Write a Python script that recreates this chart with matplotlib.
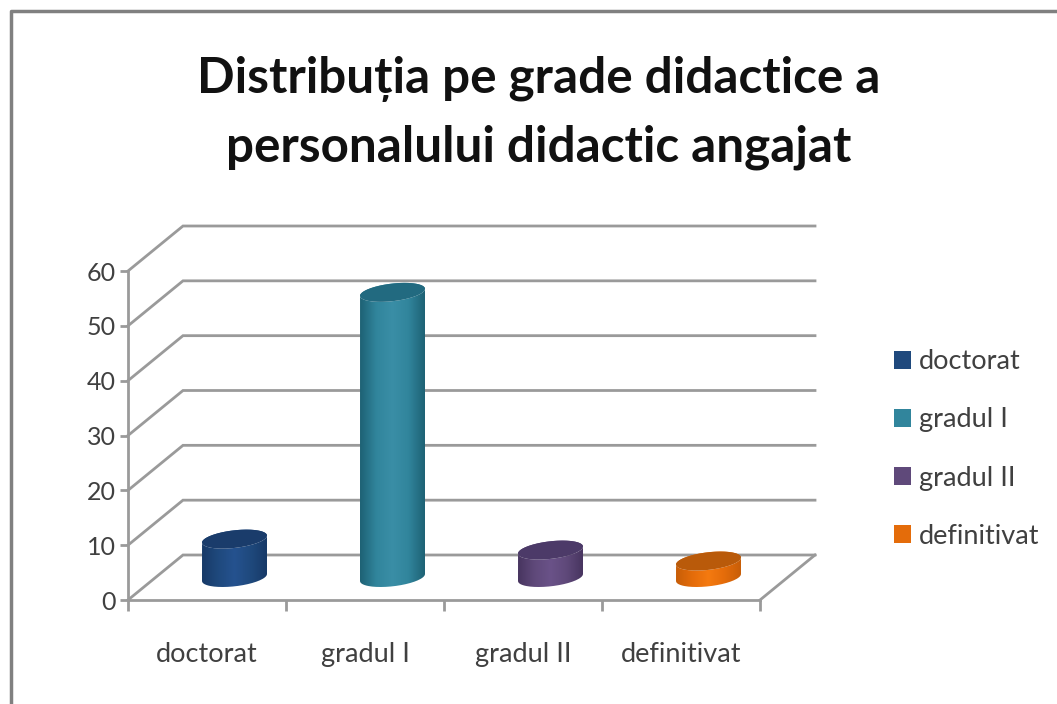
import numpy as np
from matplotlib import pyplot as plt
from matplotlib.colors import LinearSegmentedColormap
from matplotlib.lines import Line2D
from matplotlib.patches import Patch, PathPatch
from matplotlib.path import Path

categories = ["doctorat", "gradul I", "gradul II", "definitivat"]
values = [7, 52, 5, 3]
y_ticks = [0, 10, 20, 30, 40, 50, 60]

colors = ["#1f497d", "#31859c", "#5f497a", "#e46c0a"]
bright = ["#25528f", "#3a8ea6", "#6a5288", "#f57a10"]
dark = ["#173a68", "#1e6275", "#483560", "#c85e08"]
tops = ["#1a3c6b", "#226a80", "#4c3a68", "#b95a0a"]

grid_col = "#9a9a9a"
text_col = "#404040"
W, H = 1057, 704

plt.rcParams["font.family"] = ["Lato", "DejaVu Sans"]

fig = plt.figure(figsize=(W / 100, H / 100), dpi=100, facecolor="white")
# axes box = front plane of the 3d chart
ax = fig.add_axes([128 / W, 1 - 600 / H, 632 / W, 329 / H])
ax.set_xlim(0, 4)
ax.set_ylim(0, 60)
ax.patch.set_visible(False)

# depth of the fake 3d box, in data units
dep_x = 55 / 158
dep_y = 45 / (329 / 60)

for s in ["top", "right"]:
    ax.spines[s].set_visible(False)
for s in ["left", "bottom"]:
    ax.spines[s].set_color(grid_col)
    ax.spines[s].set_linewidth(2)

ax.set_yticks(y_ticks)
ax.set_xticks(range(5))
ax.set_xticklabels([])
ax.set_xticks(np.arange(4) + 0.5, categories, minor=True)
ax.tick_params(axis="y", which="major", length=6, width=2, color=grid_col,
               labelsize=18, labelcolor=text_col, pad=3)
ax.tick_params(axis="x", which="major", length=8, width=2, color=grid_col)
ax.tick_params(axis="x", which="minor", length=0, labelsize=19.5,
               labelcolor=text_col, pad=30)

# walls and floor
for v in y_ticks:
    ax.plot([0, dep_x, 4 + dep_x], [v, v + dep_y, v + dep_y], color=grid_col,
            lw=2, clip_on=False, zorder=1, solid_joinstyle="miter")
ax.plot([4, 4 + dep_x], [0, dep_y], color=grid_col, lw=2, clip_on=False, zorder=1)

# cylinders
a = 32.5 / 158
b = 1.61
tilt = 0.64
base = dep_y / 2
t = np.linspace(0, 2 * np.pi, 121)
for i, v in enumerate(values):
    cx = i + 0.5 + dep_x / 2
    ex = cx + a * np.cos(t)
    ey = b * np.sin(t) + tilt * np.cos(t)
    low = t >= np.pi
    bx = np.concatenate([ex[low], ex[low][::-1]])
    by = np.concatenate([base + ey[low], base + v + ey[low][::-1]])
    # side goes up to the top ellipse, which covers the rest
    up = ~low
    body = Path(np.column_stack([np.r_[bx, ex[up]], np.r_[by, base + v + ey[up]]]))
    body = PathPatch(body, fc="none", ec="none", zorder=3)
    ax.add_patch(body)
    cmap = LinearSegmentedColormap.from_list(
        "c", [dark[i], colors[i], bright[i], colors[i], dark[i]])
    im = ax.imshow(np.linspace(0, 1, 100)[None, :], cmap=cmap, aspect="auto",
                   extent=[cx - a, cx + a, base - 4, base + v + 4], zorder=3)
    im.set_clip_path(body)
    top = PathPatch(Path(np.column_stack([ex, base + v + ey])), fc=tops[i],
                    ec="none", zorder=4)
    ax.add_patch(top)
ax.set_xlim(0, 4)
ax.set_ylim(0, 60)

handles = [Patch(fc=c, ec="none") for c in colors]
fig.legend(handles, categories, loc="center left",
           bbox_to_anchor=(894 / W, 1 - 449 / H), frameon=False, fontsize=19.5,
           labelcolor=text_col, handlelength=0.63, handleheight=0.63,
           handletextpad=0.3, labelspacing=1.22, borderpad=0, borderaxespad=0)

fig.text(539 / W, 1 - 113 / H,
         "Distribuția pe grade didactice a\npersonalului didactic angajat",
         ha="center", va="center", fontsize=35.6, fontweight="bold", color="#111111",
         linespacing=1.63)

# chart frame, cut by the image edges
fig.add_artist(Line2D([11 / W, 11 / W, 1], [0, 1 - 11 / H, 1 - 11 / H],
                      color="#808080", lw=2.5))

fig.savefig("out.png", dpi=100)
